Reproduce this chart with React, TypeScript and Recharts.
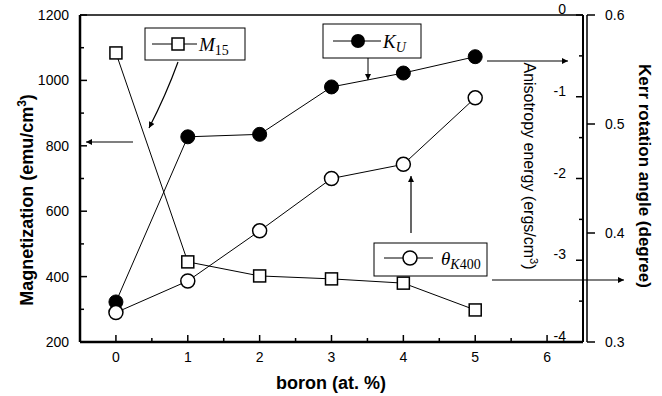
import React from 'react'
import { ComposedChart, Line, XAxis, YAxis } from 'recharts'

// boron content (at. %)
const boron = [0, 1, 2, 3, 4, 5]
// saturation magnetization M15 (emu/cm^3), left axis
const m15 = [1084, 445, 402, 393, 380, 298]
// anisotropy energy Ku (ergs/cm^3), inner right axis
const ku = [-3.51, -1.49, -1.46, -0.88, -0.71, -0.51]
// Kerr rotation angle at 400 nm (degree), outer right axis
const thetaK = [0.327, 0.356, 0.402, 0.45, 0.463, 0.524]

const xTicks = [0, 0.5, 1, 1.5, 2, 2.5, 3, 3.5, 4, 4.5, 5, 5.5, 6]
const mTicks = [200, 300, 400, 500, 600, 700, 800, 900, 1000, 1100, 1200]
const kuTicks = [-4, -3.5, -3, -2.5, -2, -1.5, -1, -0.5, 0]
const thetaTicks = [0.3, 0.4, 0.5, 0.6]

const rows = boron.map((b, i) => ({ boron: b, m15: m15[i], ku: ku[i], theta: thetaK[i] }))

const FONT = '"Liberation Sans", Arial, Helvetica, sans-serif'
const SERIF = '"Liberation Serif", "Times New Roman", serif'

/**
 * Bottom axis tick: inward tick, label on integers only
 */
const XTick = ({ x, y, payload }: any) => {
  const major = Number.isInteger(payload.value)
  return (
    <g>
      <line x1={x} x2={x} y1={y} y2={y - (major ? 7 : 4)} stroke="#000" strokeWidth={1.5} />
      {major && (
        <text x={x} y={y + 20} textAnchor="middle" fontSize={14} fontFamily={FONT} fill="#000">
          {payload.value}
        </text>
      )}
    </g>
  )
}

/**
 * Left axis tick: inward tick, label every 200
 */
const MTick = ({ x, y, payload }: any) => {
  const major = payload.value % 200 === 0
  return (
    <g>
      <line x1={x} x2={x + (major ? 7 : 4)} y1={y} y2={y} stroke="#000" strokeWidth={1.5} />
      {major && (
        <text x={x - 11} y={y + 5} textAnchor="end" fontSize={14} fontFamily={FONT} fill="#000">
          {payload.value}
        </text>
      )}
    </g>
  )
}

/**
 * Anisotropy axis tick: ticks and labels sit inside the plot
 */
const KuTick = ({ x, y, payload }: any) => {
  const major = Number.isInteger(payload.value)
  return (
    <g>
      <line x1={x} x2={x - (major ? 7 : 4)} y1={y} y2={y} stroke="#000" strokeWidth={1.5} />
      {major && (
        <text x={x - 17} y={y - 1} textAnchor="end" fontSize={14} fontFamily={FONT} fill="#000">
          {payload.value}
        </text>
      )}
    </g>
  )
}

/**
 * Kerr axis tick: outward tick
 */
const ThetaTick = ({ x, y, payload }: any) => (
  <g>
    <line x1={x} x2={x + 8} y1={y} y2={y} stroke="#000" strokeWidth={1.5} />
    <text x={x + 18} y={y + 5} textAnchor="start" fontSize={14} fontFamily={FONT} fill="#000">
      {payload.value.toFixed(1)}
    </text>
  </g>
)

const SquareDot = ({ cx, cy, index }: any) => (
  <rect key={`sq-${index}`} x={cx - 6} y={cy - 6} width={12} height={12} fill="#fff" stroke="#000" strokeWidth={1.5} />
)
const FilledDot = ({ cx, cy, index }: any) => (
  <circle key={`fc-${index}`} cx={cx} cy={cy} r={7} fill="#000" stroke="#000" />
)
const OpenDot = ({ cx, cy, index }: any) => (
  <circle key={`oc-${index}`} cx={cx} cy={cy} r={7} fill="#fff" stroke="#000" strokeWidth={1.5} />
)

/**
 * Legend boxes, arrows and axis titles drawn over the chart
 */
const Annotations = () => (
  <svg width={662} height={396} style={{ position: 'absolute', left: 0, top: 0, pointerEvents: 'none' }}>
    <defs>
      <marker id="ah" viewBox="0 0 10 10" refX="10" refY="5" markerWidth="9" markerHeight="6" orient="auto" markerUnits="userSpaceOnUse">
        <path d="M0,0 L10,5 L0,10 z" fill="#000" />
      </marker>
    </defs>

    {/* top frame */}
    <line x1={80} x2={583} y1={15} y2={15} stroke="#000" strokeWidth={1.5} />

    {/* M15 legend */}
    <rect x={145} y={28} width={100} height={32} fill="#fff" stroke="#000" strokeWidth={1} />
    <line x1={152} x2={197} y1={44} y2={44} stroke="#000" strokeWidth={1} />
    <rect x={172} y={38} width={12} height={12} fill="#fff" stroke="#000" strokeWidth={1.5} />
    <text x={199} y={51} fontFamily={SERIF} fontSize={19} fontStyle="italic" fill="#000">
      M<tspan fontStyle="normal" fontSize={14} dy={4}>15</tspan>
    </text>

    {/* Ku legend */}
    <rect x={323} y={24} width={98} height={34} fill="#fff" stroke="#000" strokeWidth={1} />
    <line x1={333} x2={381} y1={41} y2={41} stroke="#000" strokeWidth={1} />
    <circle cx={358} cy={41} r={7} fill="#000" />
    <text x={383} y={48} fontFamily={SERIF} fontSize={19} fontStyle="italic" fill="#000">
      K<tspan fontSize={14} dy={4}>U</tspan>
    </text>

    {/* theta legend */}
    <rect x={374} y={243} width={113} height={33} fill="#fff" stroke="#000" strokeWidth={1} />
    <line x1={384} x2={433} y1={258} y2={258} stroke="#000" strokeWidth={1} />
    <circle cx={410} cy={258} r={7} fill="#fff" stroke="#000" strokeWidth={1.5} />
    <text x={441} y={265} fontFamily={SERIF} fontSize={19} fontStyle="italic" fill="#000">
      θ<tspan fontSize={14} dy={4}>K</tspan><tspan fontSize={14} fontStyle="normal">400</tspan>
    </text>

    {/* arrows */}
    <path d="M178,62 Q166,95 149,128" fill="none" stroke="#000" strokeWidth={1.2} markerEnd="url(#ah)" />
    <line x1={133} x2={86} y1={142} y2={142} stroke="#000" strokeWidth={1.2} markerEnd="url(#ah)" />
    <line x1={368} x2={368} y1={58} y2={80} stroke="#000" strokeWidth={1} markerEnd="url(#ah)" />
    <line x1={487} x2={568} y1={61} y2={61} stroke="#000" strokeWidth={1.2} markerEnd="url(#ah)" />
    <line x1={411} x2={411} y1={233} y2={176} stroke="#000" strokeWidth={1.2} markerEnd="url(#ah)" />
    <line x1={492} x2={624} y1={280} y2={280} stroke="#000" strokeWidth={1.2} markerEnd="url(#ah)" />

    {/* axis titles */}
    <text transform="translate(33,200) rotate(-90)" textAnchor="middle" fontFamily={FONT} fontSize={18} fontWeight="bold" fill="#000">
      Magnetization (emu/cm<tspan dy={-7} fontSize={12}>3</tspan><tspan dy={7}>)</tspan>
    </text>
    <text x={331} y={389} textAnchor="middle" fontFamily={FONT} fontSize={18} fontWeight="bold" fill="#000">
      boron (at. %)
    </text>
    <text transform="translate(524,166) rotate(90)" textAnchor="middle" fontFamily={FONT} fontSize={16} fill="#000">
      Anisotropy energy (ergs/cm<tspan dy={-6} fontSize={11}>3</tspan><tspan dy={6}>)</tspan>
    </text>
    <text transform="translate(639,176) rotate(90)" textAnchor="middle" fontFamily={FONT} fontSize={17} fontWeight="bold" fill="#000">
      Kerr rotation angle (degree)
    </text>
  </svg>
)

export default function App() {
  return (
    <div style={{ position: 'relative', width: 662, height: 396, background: '#fff' }}>
      <style>{'body{margin:0}'}</style>
      <ComposedChart width={662} height={396} data={rows} margin={{ top: 15, right: 0, bottom: 0, left: 8 }}>
        <XAxis
          dataKey="boron"
          type="number"
          domain={[-0.5, 6.5]}
          ticks={xTicks}
          interval={0}
          height={54}
          tickSize={0}
          tickMargin={0}
          tickLine={false}
          tick={<XTick />}
          axisLine={{ stroke: '#000', strokeWidth: 2.5 }}
          allowDataOverflow
        />
        <YAxis
          yAxisId="m"
          type="number"
          domain={[200, 1200]}
          ticks={mTicks}
          interval={0}
          width={72}
          tickSize={0}
          tickMargin={0}
          tickLine={false}
          tick={<MTick />}
          axisLine={{ stroke: '#000', strokeWidth: 2.5 }}
          allowDataOverflow
        />
        <YAxis
          yAxisId="ku"
          orientation="right"
          type="number"
          domain={[-4, 0]}
          ticks={kuTicks}
          interval={0}
          width={4}
          tickSize={0}
          tickMargin={0}
          tickLine={false}
          tick={<KuTick />}
          axisLine={{ stroke: '#000', strokeWidth: 2 }}
          allowDataOverflow
        />
        <YAxis
          yAxisId="theta"
          orientation="right"
          type="number"
          domain={[0.3, 0.6]}
          ticks={thetaTicks}
          interval={0}
          width={75}
          tickSize={0}
          tickMargin={0}
          tickLine={false}
          tick={<ThetaTick />}
          axisLine={{ stroke: '#000', strokeWidth: 1.5 }}
          allowDataOverflow
        />
        <Line yAxisId="m" dataKey="m15" type="linear" stroke="#000" strokeWidth={1} dot={<SquareDot />} isAnimationActive={false} />
        <Line yAxisId="ku" dataKey="ku" type="linear" stroke="#000" strokeWidth={1} dot={<FilledDot />} isAnimationActive={false} />
        <Line yAxisId="theta" dataKey="theta" type="linear" stroke="#000" strokeWidth={1} dot={<OpenDot />} isAnimationActive={false} />
      </ComposedChart>
      <Annotations />
    </div>
  )
}
